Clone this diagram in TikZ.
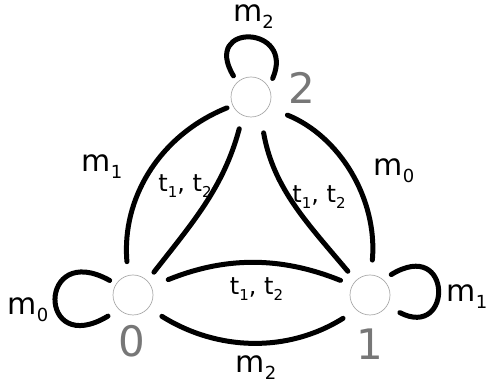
\documentclass[tikz,border=0pt]{standalone}
\usepackage{fontspec}
\setmainfont{DejaVu Sans}
\definecolor{numgray}{HTML}{777777}
\definecolor{ringgray}{HTML}{AAAAAA}
\newcommand{\mlab}[2]{{\fontsize{30}{36}\selectfont #1\raisebox{-7pt}{\fontsize{18}{20}\selectfont #2}}}
\newcommand{\tlab}{{\fontsize{24}{28}\selectfont t\raisebox{-5.5pt}{\fontsize{15}{18}\selectfont 1}, t\raisebox{-5.5pt}{\fontsize{15}{18}\selectfont 2}}}
\begin{document}
\begin{tikzpicture}[x=1pt,y=1pt,
  state/.style={circle, draw=ringgray, line width=0.7pt, minimum size=40pt, inner sep=0pt, outer sep=0pt},
  edge/.style={line width=5pt, line cap=round},
  num/.style={font=\fontsize{42}{48}\selectfont, text=numgray, inner sep=0pt},
  lab/.style={anchor=base, inner sep=0pt}]
\useasboundingbox (0,0) rectangle (487,387);
\node[state] (n0) at (133,92) {};
\node[state] (n1) at (370,92) {};
\node[state] (n2) at (251,290) {};
% outer arcs
\draw[edge, shorten <=14pt, shorten >=6.4pt] (n0.104) to[out=95,in=202] (n2.205);
\draw[edge, shorten <=20.8pt, shorten >=15pt] (n2.329) to[out=-22,in=85] (n1.87);
\draw[edge, shorten <=16pt, shorten >=16pt] (n0.-40) to[out=-32,in=212] (n1.228);
% inner arcs
\draw[edge, shorten <=11pt, shorten >=14pt] (n0.45) to[out=52,in=255] (n2.246);
\draw[edge, shorten <=18.5pt, shorten >=12.5pt] (n2.298) to[out=-80,in=130] (n1.135);
\draw[edge, shorten <=18.5pt, shorten >=13pt] (n0.25) to[out=22,in=158] (n1.151);
% loops
\draw[edge, shorten <=7.6pt, shorten >=10pt] (n2.133) .. controls +(-36.4,60.4) and +(27.3,62.6) .. (n2.28);
\draw[edge, shorten <=7.5pt, shorten >=13pt] (n0.147) .. controls +(-79.2,44.1) and +(-82.1,-49.6) .. (n0.226);
\draw[edge, shorten <=9.8pt, shorten >=14.7pt] (n1.50) .. controls +(70.1,42.7) and +(66.2,-34.1) .. (n1.-33);
% labels
\node[lab] (lm1a) at (102,215) {\mlab{m}{1}};
\node[lab] (lm0a) at (394,211) {\mlab{m}{0}};
\node[lab] (lm2a) at (253.5,365) {\mlab{m}{2}};
\node[lab] (lm0b) at (28,72) {\mlab{m}{0}};
\node[lab] (lm1b) at (467,85) {\mlab{m}{1}};
\node[lab] (lm2b) at (256,14) {\mlab{m}{2}};
\node[lab] (lt02) at (185,195) {\tlab};
\node[lab] (lt21) at (319,184) {\tlab};
\node[lab] (lt01) at (256.5,92) {\tlab};
\node[num] (d0) at (132,46) {0};
\node[num] (d1) at (370,43) {1};
\node[num] (d2) at (302,299) {2};
\end{tikzpicture}
\end{document}
